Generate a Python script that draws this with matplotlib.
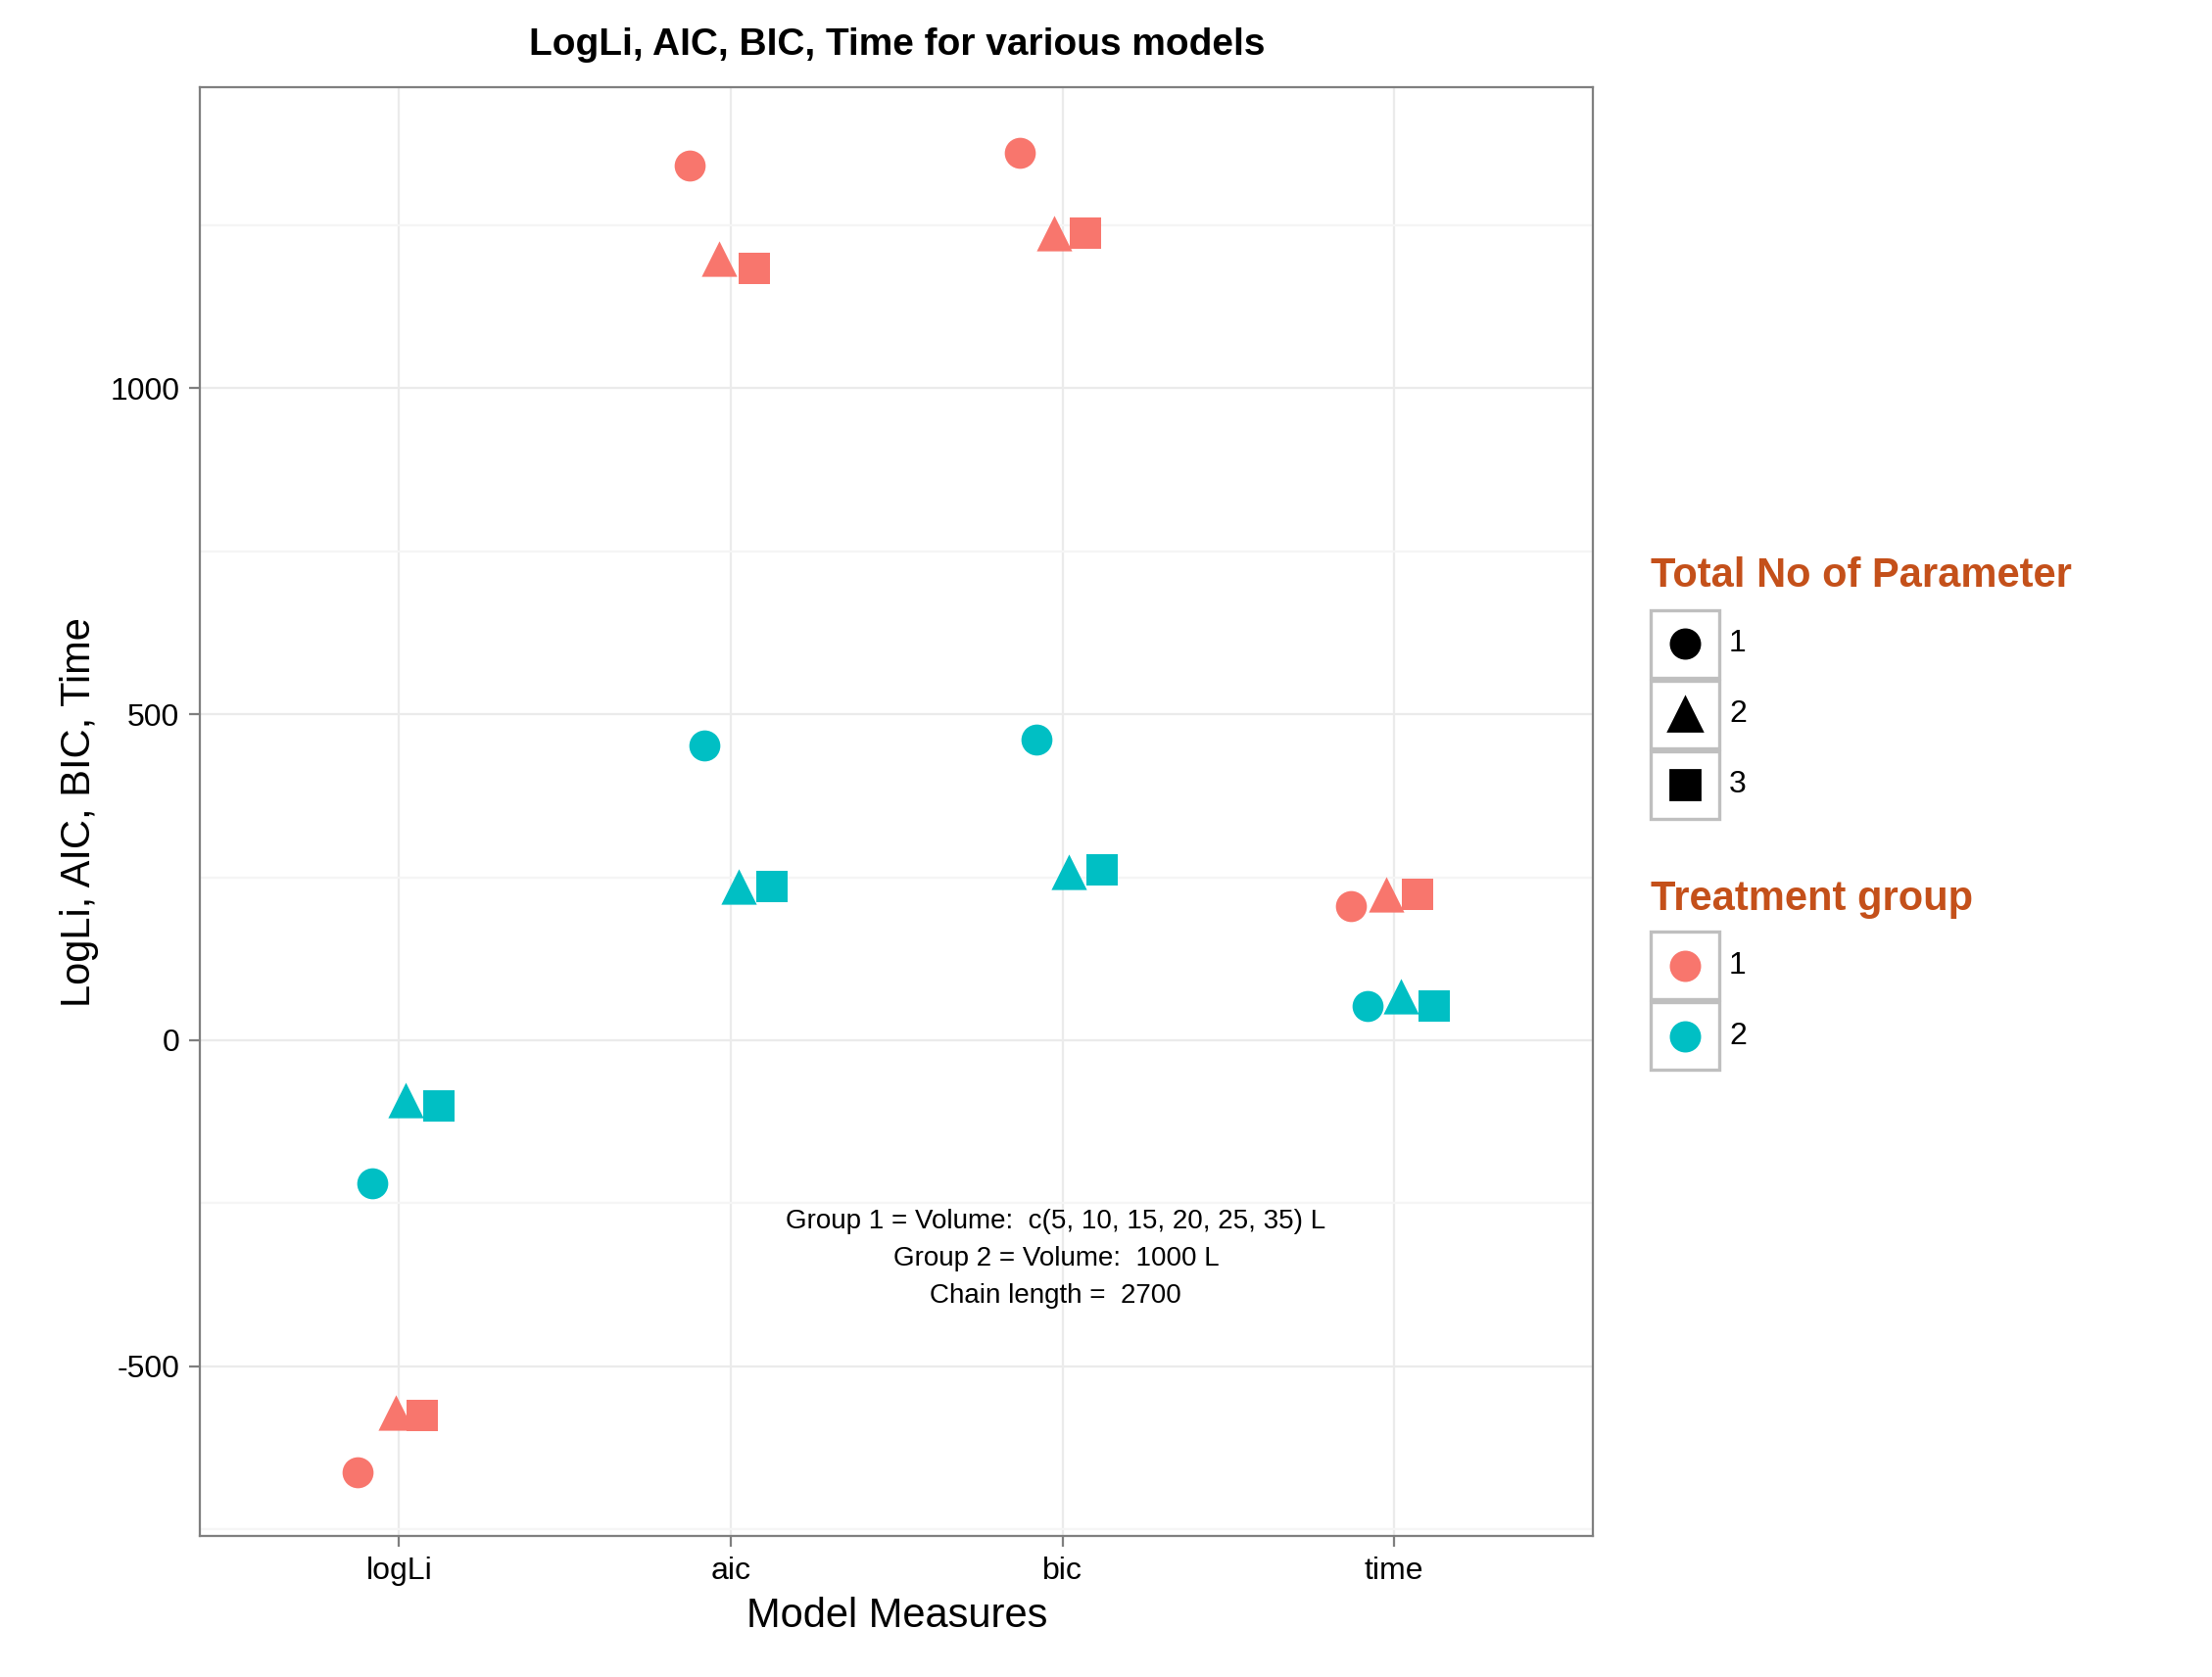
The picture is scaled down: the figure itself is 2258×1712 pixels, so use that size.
import matplotlib.pyplot as plt
from matplotlib.patches import Rectangle

plt.rcParams['font.family'] = ['Liberation Sans', 'DejaVu Sans']
plt.rcParams['axes.unicode_minus'] = False

measures = ['logLi', 'aic', 'bic', 'time']
params = [1, 2, 3]
markers = {1: 'o', 2: '^', 3: 's'}
colors = {1: '#F8766D', 2: '#00BFC4'}

# jittered x offsets, per (group, param)
offsets = {
    (1, 1): [-0.125, -0.125, -0.13, -0.13],
    (1, 2): [-0.01, -0.035, -0.025, -0.025],
    (1, 3): [0.07, 0.07, 0.07, 0.07],
    (2, 1): [-0.08, -0.08, -0.08, -0.08],
    (2, 2): [0.02, 0.025, 0.02, 0.02],
    (2, 3): [0.12, 0.125, 0.12, 0.12],
}
values = {
    (1, 1): [-662, 1342, 1361, 206],
    (1, 2): [-571, 1199, 1238, 223],
    (1, 3): [-576, 1184, 1238, 223],
    (2, 1): [-219, 452, 461, 52],
    (2, 2): [-91, 236, 258, 67],
    (2, 3): [-100, 236, 262, 52],
}

W, H = 1548.0, 1188.0
fig = plt.figure(figsize=(11.29, 8.56), dpi=200)
ax = fig.add_axes([140 / W, 1 - 1088 / H, (1115 - 140) / W, (1088 - 62) / H])

for (g, p), ys in values.items():
    xs = [i + o for i, o in enumerate(offsets[(g, p)])]
    ms = 170 if p == 2 else 130
    ax.scatter(xs, ys, marker=markers[p], s=ms, color=colors[g], zorder=3, linewidths=0)

ax.set_xlim(-0.6, 3.6)
ax.set_ylim(-760, 1461)
ax.set_xticks(range(4))
ax.set_xticklabels(measures)
ax.set_yticks([-500, 0, 500, 1000])
ax.set_yticks([-750, -250, 250, 750, 1250], minor=True)
ax.grid(True, which='major', color='#EBEBEB', lw=0.8)
ax.grid(True, which='minor', color='#F5F5F5', lw=0.8)
ax.set_axisbelow(True)
for s in ax.spines.values():
    s.set_color('#7F7F7F')
ax.tick_params(axis='both', which='major', labelsize=11.5, color='#7F7F7F', length=4)
ax.tick_params(axis='both', which='minor', length=0)
ax.set_xlabel('Model Measures', fontsize=15)
ax.set_ylabel('LogLi, AIC, BIC, Time', fontsize=15)
ax.set_title('LogLi, AIC, BIC, Time for various models', fontsize=14, fontweight='bold', pad=12)

notes = ['Group 1 = Volume:  c(5, 10, 15, 20, 25, 35) L',
         'Group 2 = Volume:  1000 L',
         'Chain length =  2700']
ax.text(1.98, -335, '\n'.join(notes), ha='center', va='center', fontsize=10, linespacing=1.6)

# legends drawn by hand (ggplot style keys with grey boxes)
title_col = '#C4501A'

def legend_block(title, title_y, key_top, items):
    fig.text(1155 / W, 1 - title_y / H, title, color=title_col, fontsize=15,
             fontweight='bold', va='center', ha='left')
    y = key_top
    for mk, col, lab, sz in items:
        fig.add_artist(Rectangle((1155 / W, 1 - (y + 48) / H), 48 / W, 48 / H,
                                 transform=fig.transFigure, fill=False,
                                 edgecolor='#BFBFBF', lw=1.2))
        fig.add_artist(plt.Line2D([1179 / W], [1 - (y + 24) / H], marker=mk, color=col,
                                  markersize=sz, ls='', transform=fig.transFigure))
        fig.text(1210 / W, 1 - (y + 24) / H, lab, fontsize=11.5, va='center', ha='left')
        y += 50

legend_block('Total No of Parameter', 408, 432,
             [(markers[p], 'black', str(p), 12 if p == 2 else 10.5) for p in params])
legend_block('Treatment group', 637, 660,
             [('o', colors[g], str(g), 10.5) for g in (1, 2)])

fig.savefig('out.png')
